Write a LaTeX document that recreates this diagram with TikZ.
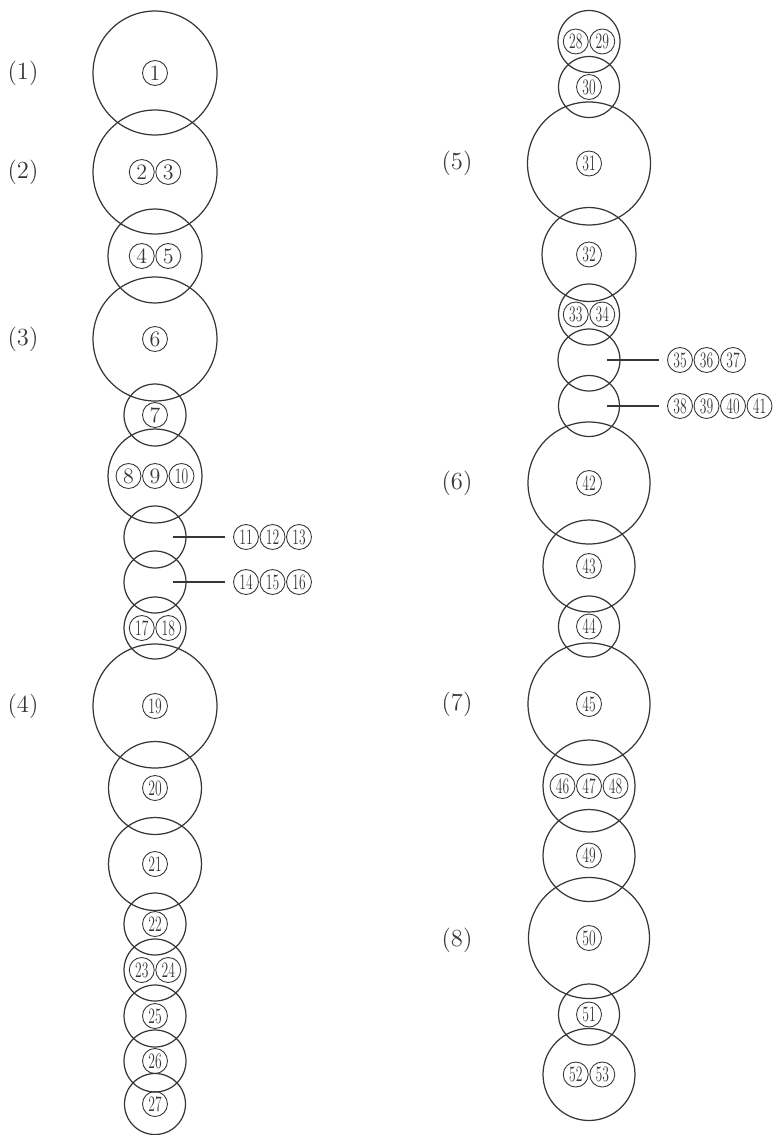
\documentclass[tikz,border=0pt]{standalone}
\usepackage{tikz}
\usepackage{graphicx}
\usetikzlibrary{calc}
\definecolor{inkgray}{HTML}{363636}

\newcommand{\cdigits}[1]{\ifnum#1>9 \scalebox{0.62}[1]{#1}\else #1\fi}

\begin{document}
\begin{tikzpicture}[
    x=0.02cm, y=-0.02cm,
    ring/.style={draw=inkgray, line width=0.7pt, circle, inner sep=0pt, minimum size=#1cm},
    cnum/.style={draw=inkgray, line width=0.5pt, circle, inner sep=0pt, minimum size=0.5cm,
                 text=inkgray, font=\fontsize{12.5}{12.5}\selectfont},
    sect/.style={text=inkgray, font=\fontsize{14}{16}\selectfont},
    lead/.style={draw=inkgray, line width=0.7pt, shorten >=4.5pt},
]
\useasboundingbox (0,0) rectangle (772,1135);

% Left column
\foreach \nm/\cy/\d in {
    g1/73/2.48, g2/172/2.48, g3/256/1.88, g4/339/2.48,
    g5/415/1.24, g6/476/1.88, g7/537/1.24, g8/582/1.24,
    g9/628/1.24, g10/706/2.48, g11/788/1.86, g12/864/1.86,
    g13/924/1.24, g14/970/1.24, g15/1016/1.24, g16/1061/1.24,
    g17/1104/1.22
} {
    \node[ring=\d] (\nm) at (155,\cy) {};
}
% Right column
\foreach \nm/\cy/\d in {
    h1/41.5/1.24, h2/87/1.22, h3/163.5/2.46, h4/254.5/1.88,
    h5/314.5/1.22, h6/360/1.24, h7/406/1.22, h8/483/2.44,
    h9/566/1.84, h10/626.5/1.22, h11/704/2.44, h12/786/1.84,
    h13/855.5/1.84, h14/938/2.42, h15/1014.5/1.22, h16/1074.5/1.84
} {
    \node[ring=\d] (\nm) at (589,\cy) {};
}

% numbers inside the rings
\foreach \g/\first/\cnt in {
    g1/1/1, g2/2/2, g3/4/2, g4/6/1, g5/7/1, g6/8/3, g9/17/2,
    g10/19/1, g11/20/1, g12/21/1, g13/22/1, g14/23/2, g15/25/1,
    g16/26/1, g17/27/1,
    h1/28/2, h2/30/1, h3/31/1, h4/32/1, h5/33/2, h8/42/1, h9/43/1,
    h10/44/1, h11/45/1, h12/46/3, h13/49/1, h14/50/1, h15/51/1,
    h16/52/2
} {
    \foreach \j in {1,...,\cnt} {
        \pgfmathtruncatemacro{\num}{\first+\j-1}
        \node[cnum] (n\num) at ($(\g)+({(\j-(\cnt+1)/2)*26.5},0)$) {\cdigits{\num}};
    }
}

% numbers beside the empty rings
\foreach \g/\first/\cnt in {g7/11/3, g8/14/3, h6/35/3, h7/38/4} {
    \foreach \j in {1,...,\cnt} {
        \pgfmathtruncatemacro{\num}{\first+\j-1}
        \node[cnum] (n\num) at ($(\g)+({91+(\j-1)*26.5},0)$) {\cdigits{\num}};
    }
    \coordinate (\g-in) at ($(\g)+(18,0)$);
    \draw[lead] (\g-in) -- (n\first.west);
}

% section marks
\foreach \i/\x/\y in {
    1/23/73, 2/23/172, 3/23/339, 4/23/706,
    5/457/163.5, 6/457/483, 7/457/704, 8/457/940
} {
    \node[sect] (s\i) at (\x,\y) {(\i)};
}
\end{tikzpicture}
\end{document}
